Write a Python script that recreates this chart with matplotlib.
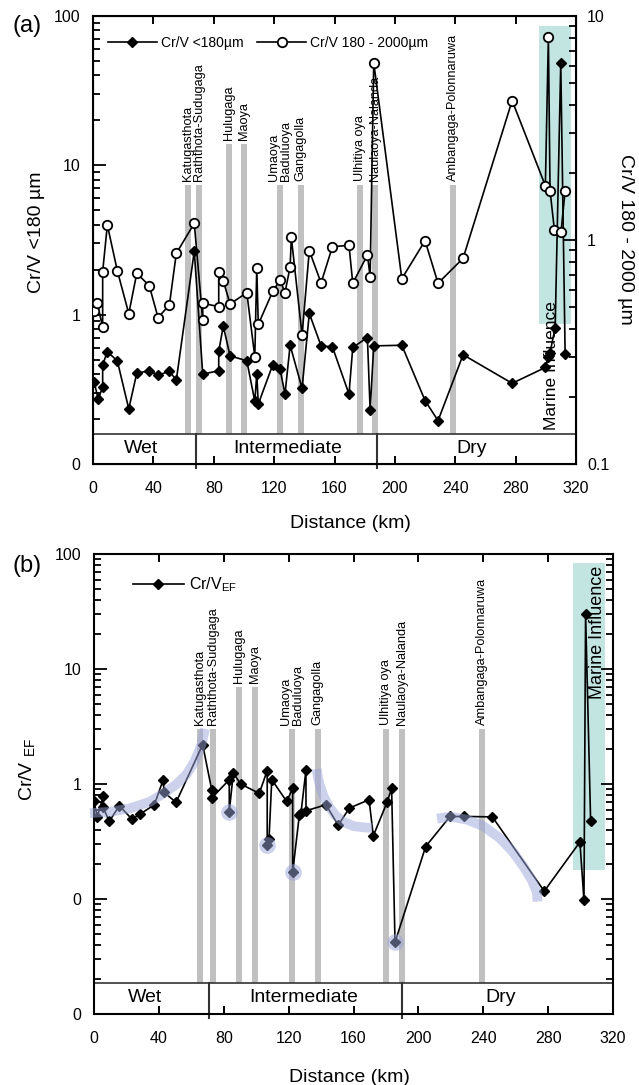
import numpy as np
import matplotlib
matplotlib.use('Agg')
import matplotlib.pyplot as plt
from matplotlib.ticker import FixedLocator, FixedFormatter, LogLocator, NullFormatter

plt.rcParams['font.family'] = ['Liberation Sans', 'DejaVu Sans']
plt.rcParams['mathtext.fontset'] = 'custom'
plt.rcParams['mathtext.rm'] = 'Liberation Sans'

# ---- panel (a): Cr/V ratios of the two grain-size fractions ----
dist_fine = [0.7, 3.5, 6.4, 6.4, 9.5, 16.1, 23.7, 29.0, 37.3, 43.1, 50.6, 55.2, 67.1, 72.7,
             83.3, 83.3, 86.3, 90.8, 101.9, 107.2, 108.5, 109.5, 119.1, 123.9, 127.2, 130.6,
             138.5, 143.3, 151.1, 158.6, 169.6, 172.1, 181.8, 183.6, 186.0, 204.6, 220.0,
             228.6, 245.2, 277.7, 299.7, 301.7, 302.8, 306.2, 309.9, 312.8]
crv_fine = [0.356, 0.271, 0.330, 0.462, 0.564, 0.491, 0.234, 0.406, 0.421, 0.394, 0.417, 0.365,
            2.66, 0.400, 0.421, 0.567, 0.841, 0.530, 0.491, 0.263, 0.400, 0.252, 0.462, 0.432,
            0.294, 0.624, 0.321, 1.02, 0.618, 0.609, 0.294, 0.603, 0.703, 0.230, 0.618, 0.624,
            0.266, 0.195, 0.539, 0.347, 0.443, 0.517, 0.558, 0.819, 48.4, 0.544]

dist_coarse = [0.7, 2.8, 6.4, 6.4, 9.5, 16.1, 23.7, 29.0, 37.3, 43.1, 50.6, 55.2, 67.1, 72.7,
               72.7, 83.3, 83.3, 86.3, 90.8, 101.9, 107.2, 108.5, 109.5, 119.1, 123.9, 127.2,
               130.6, 131.4, 138.5, 143.3, 151.1, 158.6, 169.6, 172.1, 181.8, 183.6, 186.0,
               204.6, 220.0, 228.6, 245.2, 277.7, 299.7, 301.7, 302.8, 305.7, 310.1, 312.8]
crv_coarse = [0.482, 0.522, 0.408, 0.722, 1.167, 0.730, 0.469, 0.710, 0.625, 0.450, 0.513,
              0.872, 1.187, 0.44, 0.522, 0.504, 0.718, 0.658, 0.518, 0.582, 0.301, 0.752, 0.42,
              0.590, 0.663, 0.582, 0.760, 1.028, 0.377, 0.896, 0.643, 0.933, 0.947, 0.641,
              0.857, 0.686, 6.19, 0.672, 0.993, 0.641, 0.829, 4.19, 1.747, 8.03, 1.66, 1.108,
              1.089, 1.66]

# ---- panel (b): enrichment factor ----
dist_ef = [0, 2.0, 5.7, 5.7, 9.4, 15.6, 23.4, 28.4, 37.2, 42.7, 43.2, 50.6, 67.0, 72.6, 72.6,
           83.4, 83.4, 85.9, 90.4, 101.9, 106.8, 106.8, 107.9, 109.6, 118.8, 122.5, 122.5,
           126.6, 127.6, 130.7, 130.7, 143.0, 150.6, 157.4, 169.6, 172.2, 180.8, 183.5, 185.6,
           204.5, 219.5, 228.3, 245.6, 277.6, 299.6, 302.1, 303.1, 306.2]
crv_ef = [0.706, 0.519, 0.781, 0.626, 0.472, 0.647, 0.495, 0.547, 0.660, 1.09, 0.846, 0.692,
          2.20, 0.886, 0.755, 1.09, 0.573, 1.247, 1.0, 0.829, 1.31, 0.293, 0.331, 1.09, 0.706,
          0.917, 0.171, 0.536, 0.558, 1.325, 0.585, 0.660, 0.438, 0.617, 0.73, 0.354, 0.70,
          0.917, 0.042, 0.286, 0.522, 0.522, 0.518, 0.117, 0.313, 0.0976, 29.9, 0.478]

# low outliers ringed in (b)
ring_km = [83.4, 106.8, 122.5, 185.6]
ring_ef = [0.573, 0.293, 0.171, 0.042]

# hand-drawn trend bands in (b)
trend_wet_km = [-2.5, 9.9, 22.2, 34.5, 43.2, 51.0, 57.2, 62.3, 66.4, 68.4]
trend_wet_ef = [0.558, 0.573, 0.614, 0.701, 0.834, 1.0, 1.22, 1.60, 2.23, 3.02]
trend_mid_km = [137.3, 138.0, 139.5, 141.5, 144.5, 148.5, 153.5, 160.0, 166.0, 171.5]
trend_mid_ef = [1.35, 1.15, 0.95, 0.79, 0.65, 0.54, 0.47, 0.43, 0.42, 0.415]
trend_dry_km = [211.5, 220.0, 230.0, 240.0, 250.0, 258.0, 265.0, 270.0, 273.0, 273.5]
trend_dry_ef = [0.50, 0.52, 0.49, 0.43, 0.34, 0.26, 0.19, 0.145, 0.115, 0.095]

# rivers crossed along the transect
river_names = ['Katugasthota', 'Raththota-Sudugaga', 'Hulugaga', 'Maoya', 'Umaoya\nBaduluoya',
               'Gangagolla', 'Ulhitiya oya', 'Naulaoya-Nalanda', 'Ambangaga-Polonnaruwa']
river_km_a = [62.7, 70.0, 89.9, 99.8, 123.7, 137.6, 176.9, 186.7, 238.4]
river_top_a = [7.4, 7.4, 13.8, 13.8, 7.4, 7.4, 7.4, 7.4, 7.4]
river_km_b = [65.1, 73.2, 89.2, 99.5, 121.9, 137.9, 179.8, 189.7, 239.0]
river_top_b = [3, 3, 7, 7, 3, 3, 3, 3, 3]

# climatic zones
zone_names = ['Wet', 'Intermediate', 'Dry']
zone_label_km = [31.5, 129, 251]
zone_edges_a = [68.0, 188.2]
zone_edges_b = [70.9, 189.9]

# marine influence boxes: (x0, x1, y0, y1)
marine_a = (295.6, 316.8, 0.87, 86.0)
marine_b = (295.3, 315.0, 0.177, 83.5)

BAND = 0.067
GREY = '#c0c0c0'
TEAL = '#c2e5e2'
LAV = '#9ba4db'


def log_floor(ax, frac):
    lo, hi = np.log10(ax.get_ylim())
    return 10 ** (lo + frac * (hi - lo))


def draw_zones(ax, edges):
    trans = ax.get_xaxis_transform()
    ax.plot([0, 1], [BAND, BAND], transform=ax.transAxes, color='#333333', lw=1.2, zorder=2)
    for e in edges:
        ax.plot([e, e], [-0.008, BAND], transform=trans, color='#333333', lw=1.5,
                clip_on=False, zorder=2)
    for name, x in zip(zone_names, zone_label_km):
        ax.text(x, BAND / 2 + 0.002, name, transform=trans, ha='center', va='center',
                fontsize=14)


def draw_rivers(ax, pos, tops):
    floor = log_floor(ax, BAND)
    ax.bar(pos, np.array(tops) - floor, bottom=floor, width=3.8, color=GREY, zorder=1)
    for x, top, name in zip(pos, tops, river_names):
        ax.annotate(name, (x, top), xytext=(0, 3), textcoords='offset points', rotation=90,
                    ha='center', va='bottom', fontsize=9.2, multialignment='left',
                    linespacing=1.0)


def log_ticks(ax, values, labels):
    ax.yaxis.set_major_locator(FixedLocator(values))
    ax.yaxis.set_major_formatter(FixedFormatter(labels))
    ax.yaxis.set_minor_locator(LogLocator(base=10, subs=np.arange(2, 10), numticks=20))
    ax.yaxis.set_minor_formatter(NullFormatter())


def style(ax):
    for s in ax.spines.values():
        s.set_linewidth(1.5)
    ax.set_xlim(0, 320)
    ax.set_xticks(np.arange(0, 321, 40))
    ax.tick_params(axis='x', which='major', direction='in', length=5.5, width=1.4,
                   top=True, labelsize=11.5, pad=12)
    ax.tick_params(axis='y', which='major', direction='in', length=9, width=1.3,
                   labelsize=11.5, pad=9)
    ax.tick_params(axis='y', which='minor', direction='in', length=5, width=1.3)


fig = plt.figure(figsize=(6.39, 10.85), dpi=100)

# ===================== (a) =====================
ax = fig.add_axes([93 / 639, 1 - 464 / 1085, 483 / 639, 448 / 1085])
ax.set_yscale('log')
ax.set_ylim(0.1, 100)
style(ax)
log_ticks(ax, [0.1, 1, 10, 100], ['0', '1', '10', '100'])
ax.tick_params(axis='y', which='both', right=False)

x0, x1, y0, y1 = marine_a
ax.fill_between([x0, x1], y0, y1, color=TEAL, lw=0, zorder=0)
draw_rivers(ax, river_km_a, river_top_a)
draw_zones(ax, zone_edges_a)

fine_line, = ax.plot(dist_fine, crv_fine, color='k', lw=1.2, marker='D', ms=5.5,
                     label='Cr/V <180µm', zorder=4)

ax2 = ax.twinx()
ax2.set_yscale('log')
ax2.set_ylim(0.1, 10)
log_ticks(ax2, [0.1, 1, 10], ['0.1', '1', '10'])
ax2.tick_params(axis='y', which='major', direction='in', length=9, width=1.3,
                labelsize=11.5, pad=8)
ax2.tick_params(axis='y', which='minor', direction='in', length=5, width=1.3)
coarse_line, = ax2.plot(dist_coarse, crv_coarse, color='k', lw=1.2, marker='o', ms=6.8,
                        mfc='white', mew=1.3, label='Cr/V 180 - 2000µm', zorder=4)
ax2.text(304, 0.142, 'Marine Influence', rotation=90, ha='center', va='bottom',
         fontsize=12.5, zorder=6)

ax2.legend(handles=[fine_line, coarse_line], ncol=2, loc='center left',
           bbox_to_anchor=(0.031, 0.94), frameon=False, fontsize=10, handlelength=3.5,
           handletextpad=0.3, columnspacing=1.0, borderpad=0, borderaxespad=0)

ax.set_ylabel('Cr/V <180 µm', fontsize=14)
ax.yaxis.set_label_coords(-0.10, 0.518)
ax2.set_ylabel('Cr/V 180 - 2000 µm', fontsize=14, rotation=270, va='bottom')
ax2.yaxis.set_label_coords(1.085, 0.502)
ax.set_xlabel('Distance (km)', fontsize=14)
ax.xaxis.set_label_coords(0.532, -0.113)
fig.text(13 / 639, 1 - 26 / 1085, '(a)', fontsize=17, va='center', ha='left')

# ===================== (b) =====================
bx = fig.add_axes([94 / 639, 1 - 1014 / 1085, 519 / 639, 460 / 1085])
bx.set_yscale('log')
bx.set_ylim(0.01, 100)
style(bx)
log_ticks(bx, [0.01, 0.1, 1, 10, 100], ['0', '0', '1', '10', '100'])
bx.tick_params(axis='y', which='both', right=True)

x0, x1, y0, y1 = marine_b
bx.fill_between([x0, x1], y0, y1, color=TEAL, lw=0, zorder=0)
draw_rivers(bx, river_km_b, river_top_b)
draw_zones(bx, zone_edges_b)

ef_line, = bx.plot(dist_ef, crv_ef, color='k', lw=1.2, marker='D', ms=5.5,
                   label='Cr/V$_{\\mathregular{EF}}$', zorder=4)
for tx, ty in [(trend_wet_km, trend_wet_ef), (trend_mid_km, trend_mid_ef),
               (trend_dry_km, trend_dry_ef)]:
    bx.plot(tx, ty, color=LAV, lw=7, alpha=0.5, solid_capstyle='butt',
            solid_joinstyle='round', zorder=5, clip_on=False)
bx.plot(ring_km, ring_ef, ls='none', marker='o', ms=12, color=LAV, mew=0, alpha=0.5,
        zorder=5)
bx.text(310.7, 5.5, 'Marine Influence', rotation=90, ha='center', va='bottom',
        fontsize=13, zorder=6)

bx.legend(handles=[ef_line], loc='center left', bbox_to_anchor=(0.075, 0.933),
          frameon=False, fontsize=11.5, handlelength=3.2, handletextpad=0.3,
          borderpad=0, borderaxespad=0)

bx.set_ylabel('Cr/V $_{\\mathregular{EF}}$', fontsize=14)
bx.yaxis.set_label_coords(-0.108, 0.533)
bx.set_xlabel('Distance (km)', fontsize=14)
bx.xaxis.set_label_coords(0.493, -0.12)
fig.text(13 / 639, 1 - 566 / 1085, '(b)', fontsize=17, va='center', ha='left')

fig.savefig('out.png', dpi=100)
